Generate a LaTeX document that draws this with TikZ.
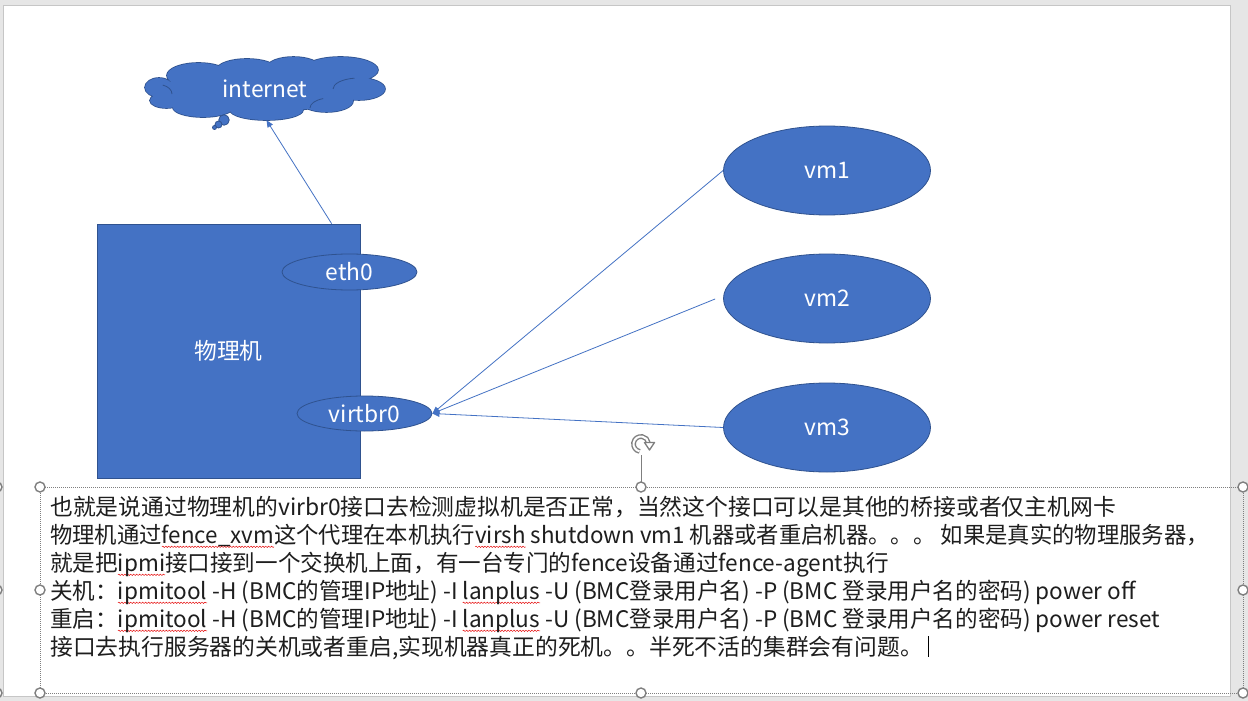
\documentclass[tikz,border=0pt]{standalone}
\usepackage{fontspec}
\setmainfont{Noto Sans CJK SC}
\usetikzlibrary{shapes.geometric,arrows.meta,decorations.pathmorphing}
\definecolor{shapeblue}{HTML}{4472C4}
\definecolor{shapeedge}{HTML}{2F528F}
\definecolor{lineblue}{HTML}{4472C4}
\definecolor{bggray}{HTML}{E6E6E6}
\definecolor{slideborder}{HTML}{C6C6C6}
\definecolor{handlegray}{HTML}{7F7F7F}
\definecolor{txt}{HTML}{1E1E1E}
\newsavebox\sqbox
\newlength\sqw
\newcommand\sq[1]{\sbox\sqbox{#1}\setlength\sqw{\wd\sqbox}\rlap{\tikz[overlay]\draw[red!90!black, line width=0.45pt, decorate, decoration={snake, amplitude=0.7pt, segment length=3pt}] (0pt,-3.8pt) -- (\sqw,-3.8pt);}\usebox\sqbox}
\tikzset{
  shp/.style={fill=shapeblue, draw=shapeedge, line width=0.8pt, text=white, inner sep=0pt},
  conn/.style={draw=lineblue, line width=0.8pt},
  tip/.style={-{Triangle[length=7pt,width=6pt]}},
  txtline/.style={anchor=base west, inner sep=0pt, text=txt},
  handle/.style={circle, draw=handlegray, fill=white, line width=1.4pt, minimum size=10pt, inner sep=0pt},
}
\newcommand\cloudlobes{%
  (159,87.5) ellipse[x radius=14, y radius=9.5]
  (166.5,100.5) ellipse[x radius=16.5, y radius=7.5]
  (198.5,75.5) ellipse[x radius=31.5, y radius=12.5]
  (247,69.5) ellipse[x radius=30, y radius=10.5]
  (293.5,67.5) ellipse[x radius=26.5, y radius=10.5]
  (340.5,70) ellipse[x radius=37.5, y radius=13]
  (359,89) ellipse[x radius=26, y radius=11]
  (326.5,101) ellipse[x radius=26.5, y radius=11]
  (266.5,110) ellipse[x radius=36.5, y radius=10]
  (203,107.5) ellipse[x radius=30, y radius=9.5]
  (265,89) ellipse[x radius=100, y radius=22]}
\begin{document}
\begin{tikzpicture}[x=1pt,y=-1pt,font=\fontsize{22.8pt}{28pt}\selectfont]
\useasboundingbox (0,0) rectangle (1248,701);
\fill[bggray] (0,0) rectangle (1248,701);
\filldraw[fill=white, draw=slideborder, line width=1pt] (3,6) rectangle (1230,696);

% cloud (union of lobes)
\filldraw[fill=shapeblue, draw=shapeedge, line width=1.6pt] \cloudlobes;
\fill[shapeblue] \cloudlobes;
\draw[shapeedge, line width=0.8pt] (172,94) arc[start angle=0, end angle=-70, x radius=14, y radius=9.5];
\draw[shapeedge, line width=0.8pt] (310,108) arc[start angle=180, end angle=250, x radius=20, y radius=10];
\draw[shapeedge, line width=0.8pt] (333,89) arc[start angle=180, end angle=260, x radius=26, y radius=11];
\node[text=white, ellipse, inner sep=0pt, minimum width=240pt, minimum height=63pt] (net) at (265,88.5) {internet};
\node[shp, circle, minimum size=10.5pt] (b1) at (224,120) {};
\node[shp, circle, minimum size=7pt] (b2) at (218.5,124.5) {};
\node[shp, circle, minimum size=4pt] (b3) at (214.5,127.5) {};

% physical machine
\node[shp, rectangle, minimum width=263pt, minimum height=254pt] (pm) at (228.5,351) {物理机};
\node[shp, ellipse, minimum width=135pt, minimum height=36pt] (eth) at (349.5,272) {eth0};
\node[shp, ellipse, minimum width=135pt, minimum height=35pt] (vbr) at (364.5,413.5) {virtbr0};

% vms
\node[shp, ellipse, minimum width=207pt, minimum height=89pt] (vm1) at (827,170.5) {vm1};
\node[shp, ellipse, minimum width=207pt, minimum height=89pt] (vm2) at (827,298.5) {vm2};
\node[shp, ellipse, minimum width=207pt, minimum height=89pt] (vm3) at (827,427.5) {vm3};

% connectors
\coordinate (pmtop) at ([xshift=235pt]pm.north west);
\draw[conn, tip] (pmtop) -- ([xshift=1.5pt]net.south);
\draw[conn, tip] (vm1.west) -- (vbr.east);
\draw[conn, tip] ([xshift=-8pt,yshift=-0.5pt]vm2.west) -- (vbr.east);
\draw[conn, tip] (vm3.west) -- (vbr.east);

% text box selection frame
\draw[handlegray, line width=0.6pt, dash pattern=on 1pt off 1pt] (40,487) rectangle (1243,693);
\draw[handlegray, line width=1pt] (641,455) -- (641,482);
\draw[handlegray, line width=4.8pt] ([shift={(641,444)}]100:7.5) arc[start angle=100, end angle=350, radius=7.5];
\draw[white, line width=2pt] ([shift={(641,444)}]101:7.5) arc[start angle=101, end angle=352, radius=7.5];
\filldraw[fill=white, draw=handlegray, line width=1.3pt, line join=round] (644.5,442.5) -- (654.5,442.5) -- (649.5,450) -- cycle;
\foreach \hx/\hy in {40/487,641/487,1243/487,40/590,1243/590,40/693,641/693,1243/693,-3/487,-3/590,-3/693}
  \node[handle] at (\hx,\hy) {};

% text
\node[txtline] (l1) at (50,515) {也就是说通过物理机的virbr0接口去检测虚拟机是否正常，当然这个接口可以是其他的桥接或者仅主机网卡};
\node[txtline] (l2) at (50,543) {\scalebox{0.98}[1]{物理机通过\sq{fence\_xvm}这个代理在本机执行\sq{virsh} shutdown vm1 机器或者重启机器。。。 如果是真实的物理服务器，}};
\node[txtline] (l3) at (50,571) {\scalebox{0.99}[1]{就是把\sq{ipmi}接口接到一个交换机上面，有一台专门的fence设备通过fence-agent执行}};
\node[txtline] (l4) at (50,599) {\scalebox{0.99}[1]{关机：\sq{ipmitool} -H (BMC的管理IP地址) -I \sq{lanplus} -U (BMC登录用户名) -P (BMC 登录用户名的密码) power off}};
\node[txtline] (l5) at (50,627) {\scalebox{0.99}[1]{重启：\sq{ipmitool} -H (BMC的管理IP地址) -I \sq{lanplus} -U (BMC登录用户名) -P (BMC 登录用户名的密码) power reset}};
\node[txtline] (l6) at (50,655) {接口去执行服务器的关机或者重启,实现机器真正的死机。。半死不活的集群会有问题。};
\draw[black, line width=0.8pt] (928,636) -- (928,657);
\end{tikzpicture}
\end{document}
